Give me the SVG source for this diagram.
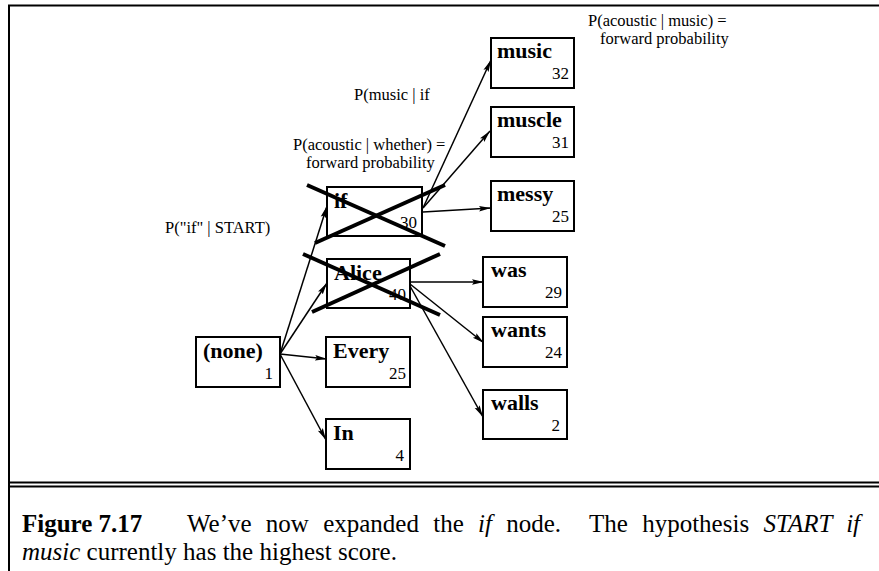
<svg xmlns="http://www.w3.org/2000/svg" width="879" height="571" viewBox="0 0 879 571">
<style>
.box{fill:#fff;stroke:#000;stroke-width:2}
.lbl{font-family:"Liberation Serif","Times New Roman",serif;font-weight:bold;font-size:22px}
.num{font-family:"Liberation Serif","Times New Roman",serif;font-size:17px;text-anchor:end}
.ann{font-family:"Liberation Serif","Times New Roman",serif;font-size:16.5px}
.cap{font-family:"Liberation Serif","Times New Roman",serif;font-size:25px}
.edge{stroke:#000;stroke-width:1.5;fill:none;marker-end:url(#ah)}
.cross{stroke:#000;stroke-width:4;fill:none}
.frame{stroke:#000;stroke-width:2;fill:none}
</style>
<defs>
<marker id="ah" markerUnits="userSpaceOnUse" markerWidth="13" markerHeight="8" refX="12" refY="4" orient="auto">
<path d="M0,1.2 L12,4 L0,6.8 L2,4 z" fill="#000"/>
</marker>
</defs>
<rect width="879" height="571" fill="#fff"/>
<g id="frame">
<path class="frame" d="M9,571 V5.5 H879"/>
<path class="frame" d="M9,482.5 H879 M9,486.5 H879"/>
</g>
<g id="connectors">
<line class="edge" x1="280" y1="354" x2="327" y2="206"/>
<line class="edge" x1="280" y1="354" x2="327" y2="283"/>
<line class="edge" x1="280" y1="354" x2="327" y2="359"/>
<line class="edge" x1="280" y1="354" x2="326" y2="440"/>
<line class="edge" x1="423" y1="208" x2="491" y2="60"/>
<line class="edge" x1="423" y1="208" x2="490" y2="131"/>
<line class="edge" x1="423" y1="212" x2="491" y2="208"/>
<line class="edge" x1="410" y1="282" x2="484" y2="282"/>
<line class="edge" x1="410" y1="284" x2="484" y2="343"/>
<line class="edge" x1="410" y1="286" x2="483" y2="417"/>
</g>
<g id="node-none"><rect class="box" x="196" y="337" width="84" height="50"/><text class="lbl" x="203" y="358">(none)</text><text class="num" x="273" y="379">1</text></g>
<g id="node-if"><rect class="box" x="327" y="187" width="95" height="49"/><text class="lbl" x="334" y="208">if</text><text class="num" x="417" y="228">30</text></g>
<g id="node-alice"><rect class="box" x="327" y="259" width="83" height="49"/><text class="lbl" x="334" y="280">Alice</text><text class="num" x="406" y="300">40</text></g>
<g id="node-every"><rect class="box" x="326" y="337" width="84" height="50"/><text class="lbl" x="333" y="358">Every</text><text class="num" x="406" y="379">25</text></g>
<g id="node-in"><rect class="box" x="326" y="419" width="84" height="50"/><text class="lbl" x="333" y="440">In</text><text class="num" x="404" y="461">4</text></g>
<g id="node-music"><rect class="box" x="491" y="38" width="83" height="50"/><text class="lbl" x="497" y="58">music</text><text class="num" x="569" y="79">32</text></g>
<g id="node-muscle"><rect class="box" x="491" y="107" width="83" height="50"/><text class="lbl" x="497" y="127">muscle</text><text class="num" x="569" y="148">31</text></g>
<g id="node-messy"><rect class="box" x="491" y="181" width="83" height="50"/><text class="lbl" x="497" y="201">messy</text><text class="num" x="569" y="222">25</text></g>
<g id="node-was"><rect class="box" x="483" y="257" width="84" height="50"/><text class="lbl" x="491" y="277">was</text><text class="num" x="562" y="298">29</text></g>
<g id="node-wants"><rect class="box" x="483" y="317" width="84" height="50"/><text class="lbl" x="491" y="337">wants</text><text class="num" x="562" y="358">24</text></g>
<g id="node-walls"><rect class="box" x="483" y="390" width="84" height="49"/><text class="lbl" x="491" y="410">walls</text><text class="num" x="560" y="431">2</text></g>
<g id="crosses">
<line class="cross" x1="307" y1="185" x2="445" y2="246"/>
<line class="cross" x1="315" y1="243" x2="445" y2="185"/>
<line class="cross" x1="303" y1="254" x2="440" y2="315"/>
<line class="cross" x1="440" y1="254" x2="312" y2="312"/>
</g>
<g id="labels">
<text class="ann" x="588" y="26">P(acoustic | music) =</text>
<text class="ann" x="600" y="44">forward probability</text>
<text class="ann" x="354" y="100">P(music | if</text>
<text class="ann" x="293" y="150">P(acoustic | whether) =</text>
<text class="ann" x="306" y="168">forward probability</text>
<text class="ann" x="165" y="233">P("if" | START)</text>
</g>
<g id="caption">
<text class="cap" x="22" y="532"><tspan font-weight="bold">Figure 7.17</tspan></text>
<text class="cap" x="187" y="532" word-spacing="8">We’ve now expanded the <tspan font-style="italic">if</tspan> node.&#160; The hypothesis <tspan font-style="italic">START if</tspan></text>
<text class="cap" x="22" y="560"><tspan font-style="italic">music</tspan> currently has the highest score.</text>
</g>
</svg>
